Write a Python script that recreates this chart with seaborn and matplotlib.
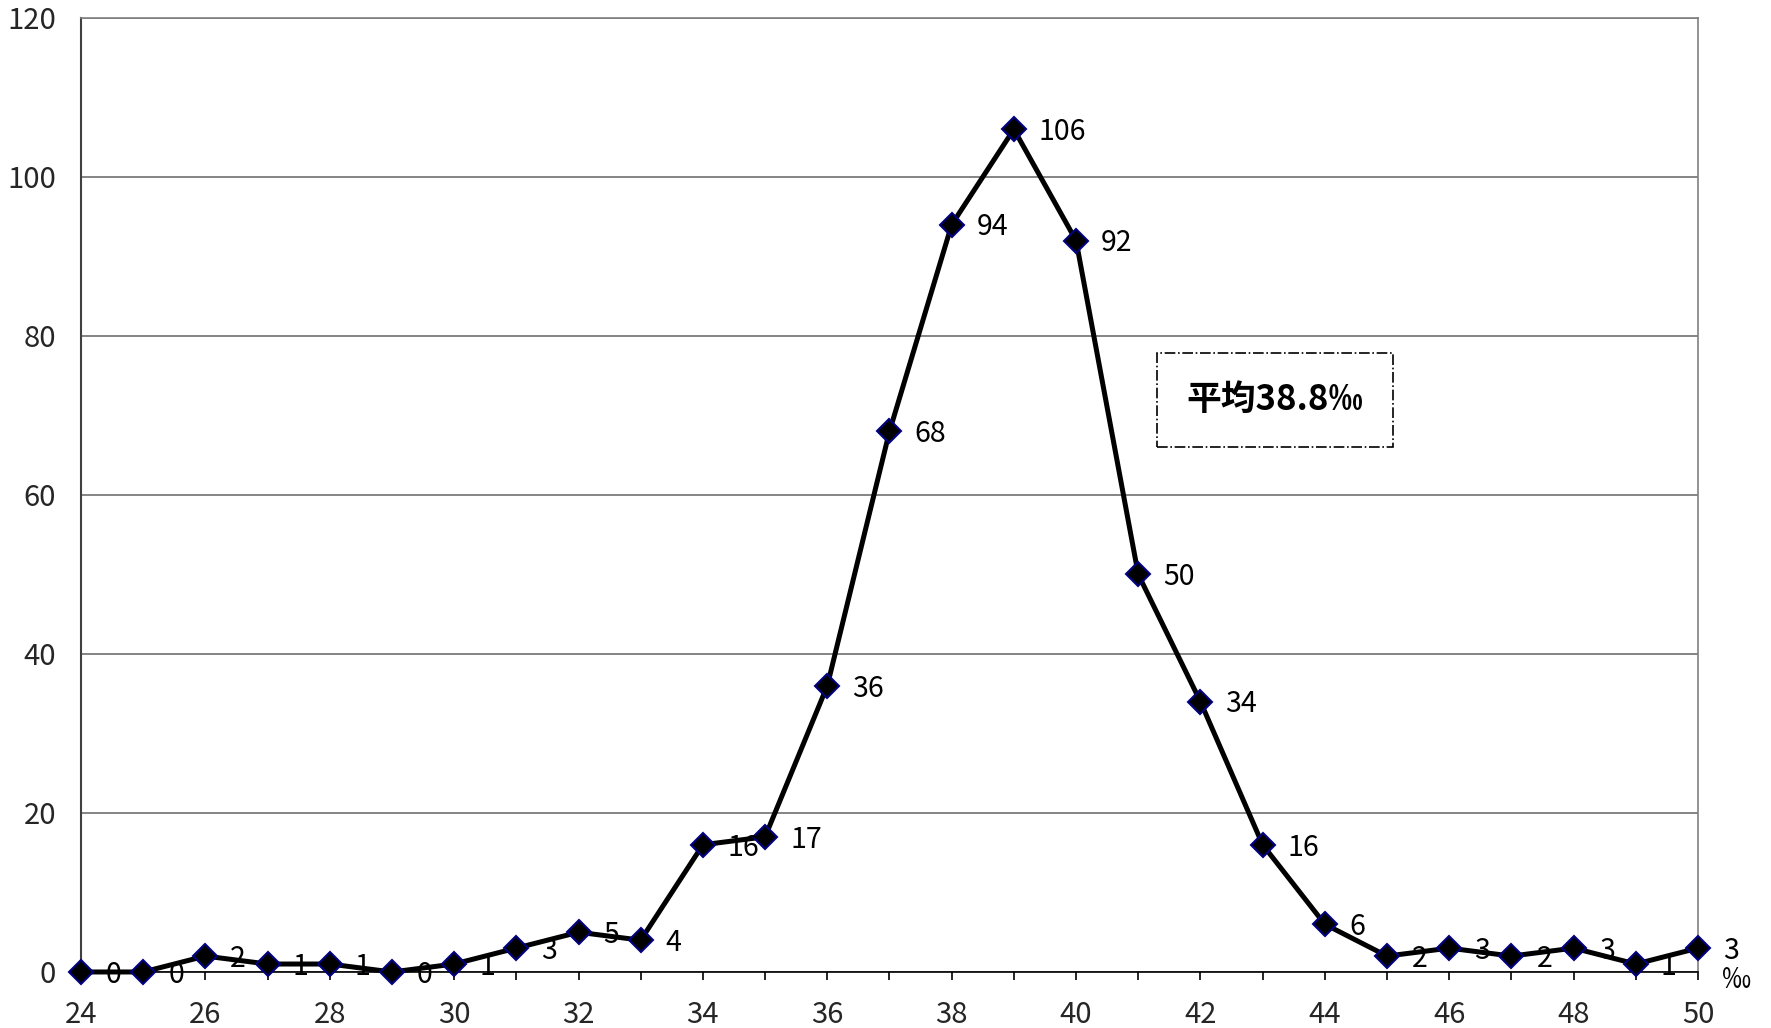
import matplotlib
matplotlib.use("Agg")
import matplotlib.pyplot as plt
import seaborn as sns
import pandas as pd

# Salinity (‰) and number of samples
salinity = [24, 25, 26, 27, 28, 29, 30, 31, 32, 33, 34, 35, 36, 37,
            38, 39, 40, 41, 42, 43, 44, 45, 46, 47, 48, 49, 50]
counts = [0, 0, 2, 1, 1, 0, 1, 3, 5, 4, 16, 17, 36, 68,
          94, 106, 92, 50, 34, 16, 6, 2, 3, 2, 3, 1, 3]
x_tick_values = list(range(24, 51, 2))
y_tick_values = [0, 20, 40, 60, 80, 100, 120]
mean_label = "平均38.8‰"
unit_label = "‰"

sns.set_style("white")
plt.rcParams["font.family"] = ["Noto Sans CJK JP", "DejaVu Sans"]

df = pd.DataFrame({"salinity": salinity, "count": counts})

fig = plt.figure(figsize=(17.71, 10.28), dpi=100)
ax = fig.add_axes([0.0457, 0.0545, 0.9131, 0.928])

sns.lineplot(data=df, x="salinity", y="count", ax=ax, color="black",
             linewidth=3.6, marker="D", markersize=12,
             markerfacecolor="black", markeredgecolor="#000080",
             markeredgewidth=1.5, zorder=3, clip_on=False)

for xv, yv in zip(salinity, counts):
    ax.annotate(str(yv), (xv, yv), xytext=(18, -2), textcoords="offset points",
                ha="left", va="center", fontsize=20.5, color="black", zorder=4,
                annotation_clip=False)

ax.set_xlim(24, 50)
ax.set_ylim(0, 120)
ax.set_xticks(x_tick_values)
ax.set_xticks(salinity, minor=True)
ax.set_yticks(y_tick_values)
ax.set_xlabel("")
ax.set_ylabel("")

ax.tick_params(axis="x", which="both", direction="out", length=6, width=1.2,
               color="black", labelsize=21, pad=14, bottom=True)
ax.tick_params(axis="y", length=0, labelsize=21, pad=18)

ax.grid(axis="y", color="#707070", linewidth=1.2)
ax.grid(axis="x", visible=False)
ax.set_axisbelow(True)

for side in ["top", "right"]:
    ax.spines[side].set_color("#808080")
    ax.spines[side].set_linewidth(1.2)
ax.spines["left"].set_color("#404040")
ax.spines["left"].set_linewidth(1.5)
ax.spines["bottom"].set_color("black")
ax.spines["bottom"].set_linewidth(1.2)

ax.text(43.2, 72, mean_label, ha="center", va="center", fontsize=25,
        fontweight="bold", color="black", zorder=5,
        bbox=dict(boxstyle="square,pad=0.85", facecolor="white",
                  edgecolor="black", linestyle="-.", linewidth=1.2))

ax.annotate(unit_label, (50, 0), xytext=(17, -6), textcoords="offset points",
            ha="left", va="center", fontsize=21, color="black",
            annotation_clip=False)

fig.savefig("out.png", dpi=100)
